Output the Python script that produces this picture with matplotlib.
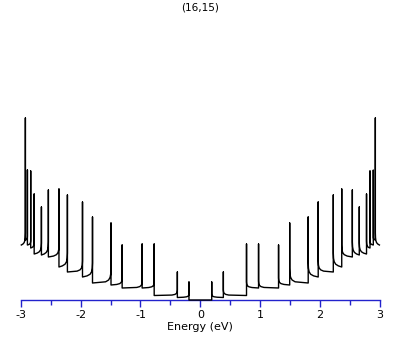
import matplotlib
matplotlib.use("Agg")
import matplotlib.pyplot as plt
from matplotlib.ticker import MultipleLocator
import numpy as np

# ---- data (positive-energy half; spectrum is mirror symmetric) ----
spike_energy = [0.190, 0.384, 0.771, 0.972, 1.306, 1.492, 1.801, 1.968,
                2.220, 2.361, 2.538, 2.654, 2.775, 2.833, 2.888, 2.922]
spike_peak = [0.18, 0.28, 0.56, 0.56, 0.55, 0.77, 0.83, 0.98,
              1.05, 1.11, 1.10, 0.93, 1.06, 1.29, 1.30, 1.82]
level_after = [0.06, 0.10, 0.18, 0.19, 0.22, 0.32, 0.37, 0.39,
               0.47, 0.55, 0.58, 0.57, 0.59, 0.60, 0.64, 0.67]
level_end = [0.025, 0.045, 0.12, 0.12, 0.15, 0.17, 0.23, 0.28,
             0.33, 0.43, 0.45, 0.46, 0.52, 0.55, 0.60, 0.55]
energy_max = 2.99
title_text = "(16,15)"
xlabel_text = "Energy (eV)"

# drawing style of the decay after each spike (shape only, not data)
decay_dx = [0.004, 0.015, 0.04, 0.09]
decay_frac = [0.04, 0.12, 0.30, 0.60]
decay_w = [0.62, 0.38, 0.20, 0.08]

# ---- build the polyline for the positive half ----
ex = [0.0]
ey = [0.0]
prev_level = 0.0
n = len(spike_energy)
for i in range(n):
    e0 = spike_energy[i]
    e1 = spike_energy[i + 1] if i + 1 < n else energy_max
    a, b = level_after[i], level_end[i]
    gap = e1 - e0
    ex += [e0, e0, e0]
    ey += [prev_level, spike_peak[i], a]
    for dx, fr, w in zip(decay_dx, decay_frac, decay_w):
        ex.append(e0 + min(dx, fr * gap))
        ey.append(b + w * (a - b))
    ex.append(e1)
    ey.append(b)
    prev_level = b
ex = np.array(ex)
ey = np.array(ey)
x_all = np.concatenate([-ex[::-1], ex[1:]])
y_all = np.concatenate([ey[::-1], ey[1:]])

plt.rcParams['axes.unicode_minus'] = False
plt.rcParams['font.family'] = ['DejaVu Sans']

W, H = 409, 345
fig = plt.figure(figsize=(W / 100, H / 100), dpi=100)
left_px, right_px, bottom_px, top_px = 20.7, 380.0, 300.0, 20.0
ax = fig.add_axes([left_px / W, 1 - bottom_px / H,
                   (right_px - left_px) / W, (bottom_px - top_px) / H])

ax.plot(x_all, y_all, color='black', lw=1.0, zorder=5, clip_on=False)

blue = '#2222cc'
ax.set_xlim(-3, 3)
ax.set_ylim(0, 2.8)
for s in ['left', 'right', 'top']:
    ax.spines[s].set_visible(False)
ax.spines['bottom'].set_color(blue)
ax.spines['bottom'].set_linewidth(1.0)
ax.set_yticks([])
ax.xaxis.set_major_locator(MultipleLocator(1))
ax.xaxis.set_minor_locator(MultipleLocator(0.5))
ax.tick_params(axis='x', which='major', direction='out', length=5, width=1,
               color=blue, labelsize=8, pad=2, labelcolor='black')
ax.tick_params(axis='x', which='minor', direction='out', length=3.5, width=1,
               color=blue)
ax.set_xlabel(xlabel_text, fontsize=8, labelpad=2)
fig.text(200 / W, 1 - 8 / H, title_text, ha='center', va='center', fontsize=7.5)

fig.savefig("out.png", dpi=100)
